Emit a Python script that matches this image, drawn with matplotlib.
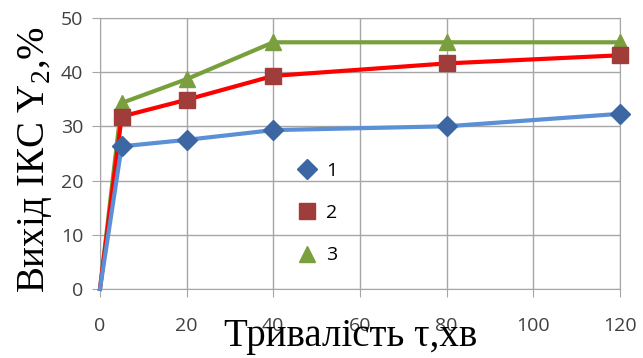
import matplotlib.pyplot as plt
from matplotlib.lines import Line2D

plt.rcParams['mathtext.fontset'] = 'custom'
plt.rcParams['mathtext.rm'] = 'Liberation Serif'

# time, min
t = [0, 5, 20, 40, 80, 120]
y1 = [0, 26.3, 27.5, 29.3, 30.0, 32.3]
y2 = [0, 31.8, 34.9, 39.3, 41.6, 43.1]
y3 = [0, 34.3, 38.7, 45.5, 45.5, 45.5]
labels = ['1', '2', '3']

fig = plt.figure(figsize=(6.43, 3.58), dpi=100)
ax = fig.add_axes([0.1555, 0.193, 0.8085, 0.757])

mk = slice(1, None)  # no marker at the origin
ax.plot(t, y3, color='#77A03A', lw=3, marker='^', ms=12, mfc='#7B9E3E', mec='#7B9E3E',
        markevery=mk, zorder=3, clip_on=False)
ax.plot(t, y2, color='#FF0000', lw=3, marker='s', ms=12, mfc='#A03C3A', mec='#A03C3A',
        markevery=mk, zorder=4, clip_on=False)
ax.plot(t, y1, color='#5B8FD6', lw=3, marker='D', ms=10, mfc='#3C67A3', mec='#3C67A3',
        markevery=mk, zorder=5, clip_on=False)

ax.set_xlim(0, 120)
ax.set_ylim(0, 50)
ax.set_xticks(range(0, 121, 20))
ax.set_yticks(range(0, 51, 10))
ax.grid(True, color='#A6A6A6', lw=1)
ax.set_axisbelow(True)
for s in ax.spines.values():
    s.set_color('#A6A6A6')
ax.tick_params(colors='#A6A6A6', labelcolor='#404040', labelsize=14, length=6)
ax.tick_params(axis='x', pad=14)
ax.tick_params(axis='y', pad=6)
for lab in ax.get_xticklabels() + ax.get_yticklabels():
    lab.set_family('Open Sans')

# legend: markers only
handles = [Line2D([], [], ls='none', marker='D', ms=10, color='#3C67A3'),
           Line2D([], [], ls='none', marker='s', ms=12, color='#A03C3A'),
           Line2D([], [], ls='none', marker='^', ms=12, color='#7B9E3E')]
fig.legend(handles, labels, loc='upper left', bbox_to_anchor=(0.432, 0.597),
           frameon=False, labelspacing=1.25, handlelength=1.2,
           handletextpad=0.4, prop={'family': 'Open Sans', 'size': 14})

fig.text(0.055, 0.555, 'Вихід ІКС Y$_{2}$,%', rotation=90, ha='center', va='center',
         family='Liberation Serif', fontsize=28)
fig.text(0.545, 0.06, 'Тривалість τ,хв', ha='center', va='center',
         family='Liberation Serif', fontsize=28)

fig.savefig('out.png', dpi=100)
